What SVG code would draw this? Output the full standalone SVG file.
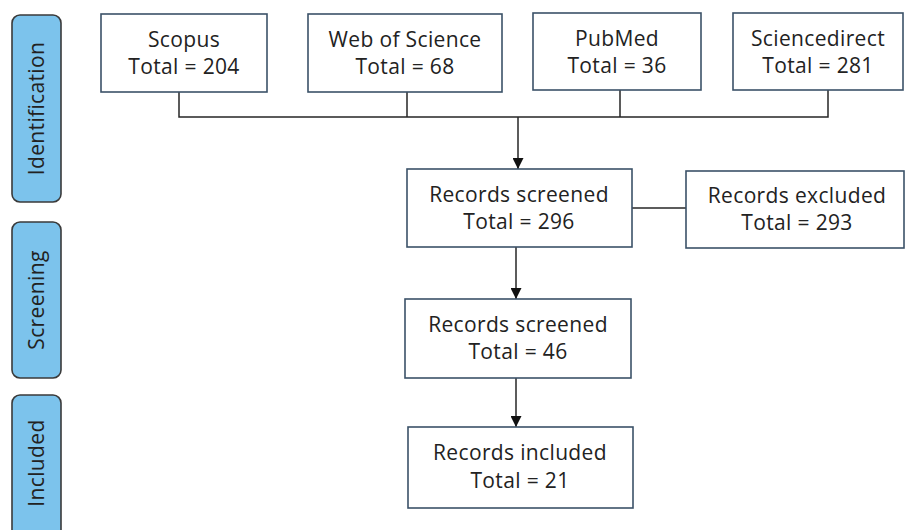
<svg xmlns="http://www.w3.org/2000/svg" width="906" height="530" viewBox="0 0 906 530">
<defs>
<marker id="arr" viewBox="0 0 10 10" refX="10" refY="5" markerWidth="11" markerHeight="11" markerUnits="userSpaceOnUse" orient="auto">
<path d="M0,0 L10,5 L0,10 z" fill="#111"/>
</marker>
</defs>
<style>
.box{fill:#fff;stroke:#3b5268;stroke-width:1.6}
.side{fill:#7cc3ec;stroke:#3a3a3a;stroke-width:1.6}
.t{font-family:"Open Sans","Liberation Sans",sans-serif;font-size:21px;letter-spacing:0.35px;fill:#222;text-anchor:middle}
.c{fill:none;stroke:#262626;stroke-width:1.5}
</style>
<rect width="906" height="530" fill="#fff"/>
<g id="side-identification">
<rect class="side" x="12" y="15" width="49" height="187" rx="8"/>
<text class="t" transform="translate(43.5,108.5) rotate(-90)">Identification</text>
</g>
<g id="side-screening">
<rect class="side" x="12" y="222" width="49" height="156" rx="8"/>
<text class="t" transform="translate(43.5,300) rotate(-90)">Screening</text>
</g>
<g id="side-included">
<rect class="side" x="12" y="395" width="49" height="145" rx="8"/>
<text class="t" transform="translate(43.5,463) rotate(-90)">Included</text>
</g>
<g id="connectors">
<path class="c" d="M179,92 V117 H828 V90 M407,92 V117 M620,90 V117"/>
<path class="c" d="M518,117 V169" marker-end="url(#arr)"/>
<path class="c" d="M632,208 H686"/>
<path class="c" d="M516,247 V299" marker-end="url(#arr)"/>
<path class="c" d="M516,378 V427" marker-end="url(#arr)"/>
</g>
<g id="scopus">
<rect class="box" x="101" y="14" width="166" height="78"/>
<text class="t" x="184" y="47">Scopus</text>
<text class="t" x="184" y="74">Total = 204</text>
</g>
<g id="wos">
<rect class="box" x="308" y="14" width="194" height="78"/>
<text class="t" x="405" y="47">Web of Science</text>
<text class="t" x="405" y="74">Total = 68</text>
</g>
<g id="pubmed">
<rect class="box" x="533" y="13" width="168" height="77"/>
<text class="t" x="617" y="46">PubMed</text>
<text class="t" x="617" y="73">Total = 36</text>
</g>
<g id="sciencedirect">
<rect class="box" x="733" y="13" width="170" height="77"/>
<text class="t" x="818" y="46">Sciencedirect</text>
<text class="t" x="818" y="73">Total = 281</text>
</g>
<g id="screened1">
<rect class="box" x="407" y="169" width="225" height="78"/>
<text class="t" x="519" y="202">Records screened</text>
<text class="t" x="519" y="229">Total = 296</text>
</g>
<g id="excluded">
<rect class="box" x="686" y="171" width="218" height="77"/>
<text class="t" x="797" y="203">Records excluded</text>
<text class="t" x="797" y="230">Total = 293</text>
</g>
<g id="screened2">
<rect class="box" x="405" y="299" width="226" height="79"/>
<text class="t" x="518" y="332">Records screened</text>
<text class="t" x="518" y="359">Total = 46</text>
</g>
<g id="included">
<rect class="box" x="408" y="427" width="225" height="81"/>
<text class="t" x="520" y="460">Records included</text>
<text class="t" x="520" y="488">Total = 21</text>
</g>
</svg>
